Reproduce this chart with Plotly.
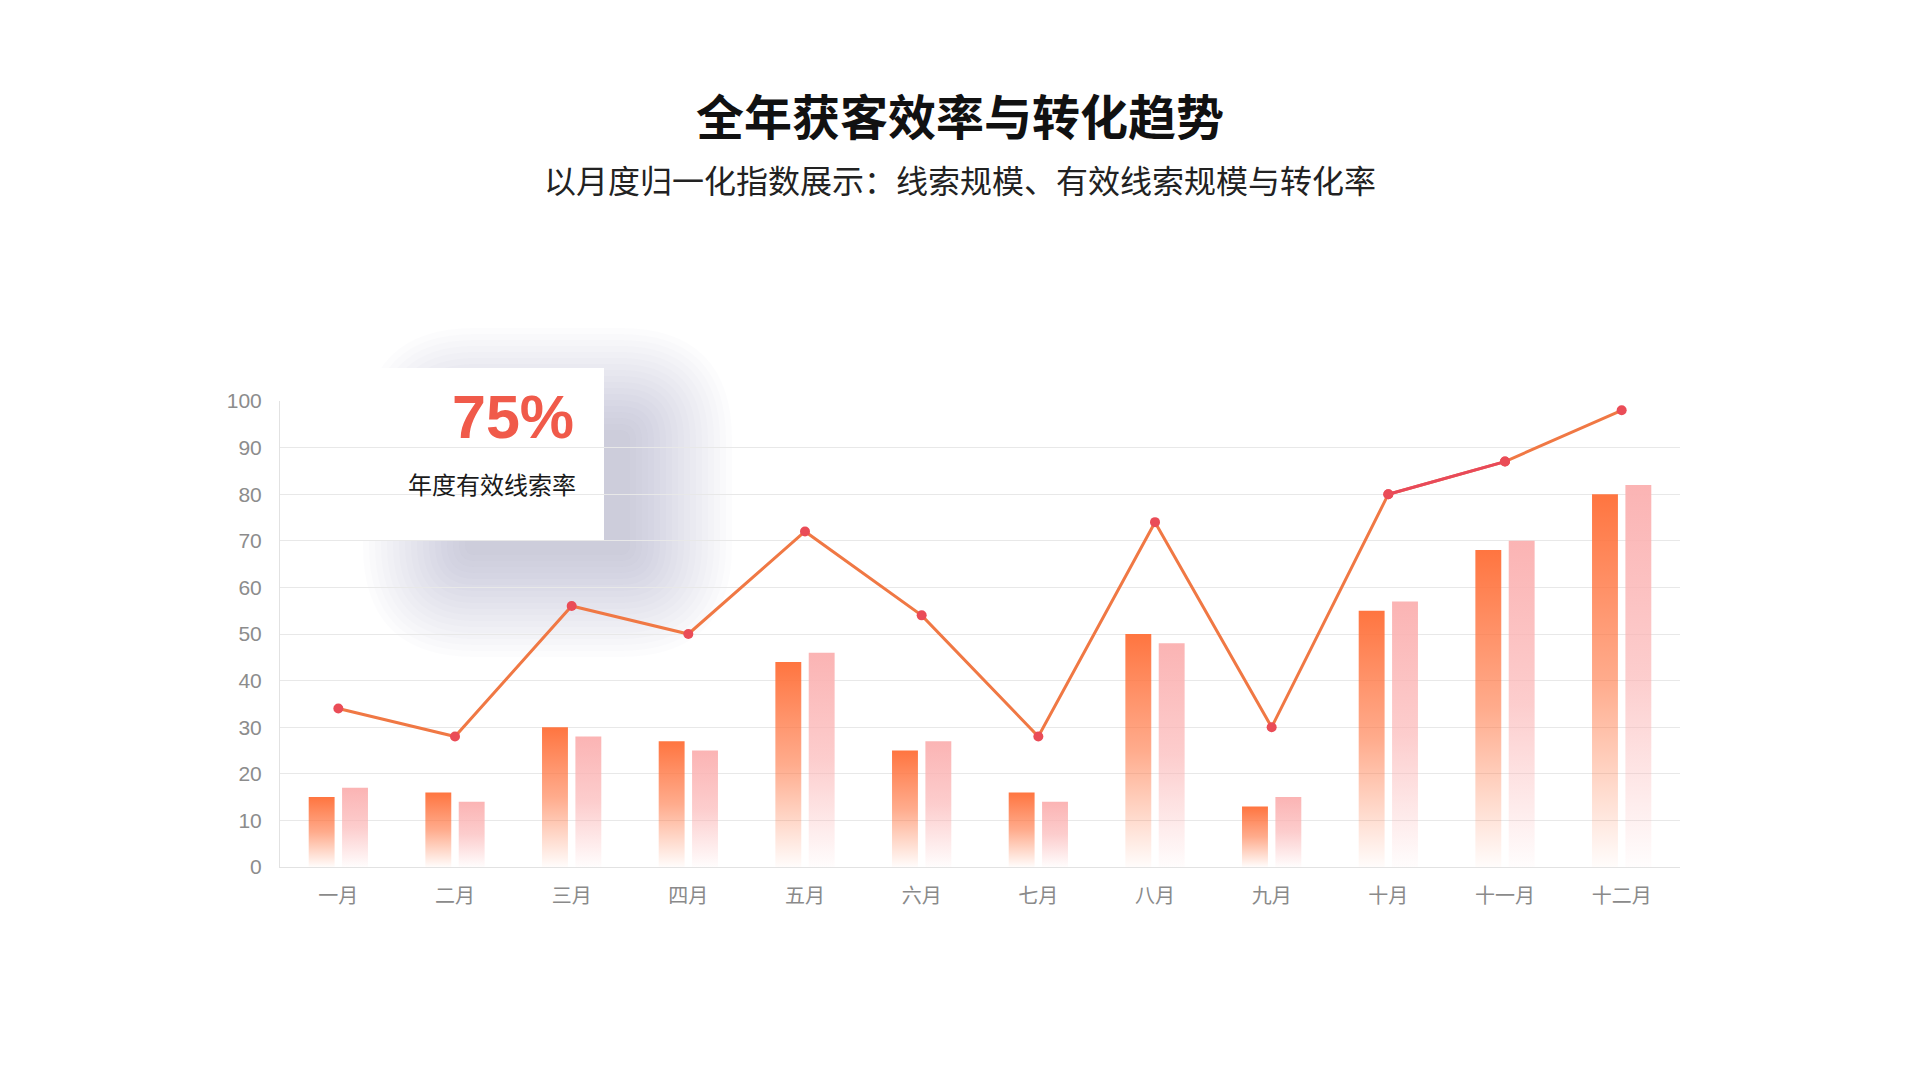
import plotly.graph_objects as go

months = ["一月", "二月", "三月", "四月", "五月", "六月",
          "七月", "八月", "九月", "十月", "十一月", "十二月"]
leads = [15, 16, 30, 27, 44, 25, 16, 50, 13, 55, 68, 80]
valid_leads = [17, 14, 28, 25, 46, 27, 14, 48, 15, 57, 70, 82]
conversion = [34, 28, 56, 50, 72, 54, 28, 74, 30, 80, 87, 98]
y_ticks = list(range(0, 101, 10))

CJK = "Noto Sans CJK SC"
NUM = "Liberation Sans, Arial, sans-serif"

# plot area in page pixels (the page body adds an 8px margin on screen)
OFF = 8
L, R, T, B = 272, 1672, 393, 859


def px(x, y):
    # screen pixel -> paper coords
    x, y = x - OFF, y - OFF
    return (x - L) / (R - L), (B - y) / (B - T)


def rounded(x0, y0, x1, y1, r):
    a0, b0 = px(x0, y0)
    a1, b1 = px(x1, y1)
    rx = r / (R - L)
    ry = r / (B - T)
    return (f"M{a0 + rx},{b0} L{a1 - rx},{b0} Q{a1},{b0} {a1},{b0 - ry} "
            f"L{a1},{b1 + ry} Q{a1},{b1} {a1 - rx},{b1} L{a0 + rx},{b1} "
            f"Q{a0},{b1} {a0},{b1 + ry} L{a0},{b0 - ry} Q{a0},{b0} {a0 + rx},{b0} Z")


fig = go.Figure()

orange_scale = [[0, "rgba(255,120,70,0.02)"], [0.5, "rgba(255,120,70,0.62)"],
                [1, "rgba(255,117,64,1)"]]
pink_scale = [[0, "rgba(251,178,178,0.03)"], [0.5, "rgba(251,178,178,0.65)"],
              [1, "rgba(251,180,180,1)"]]

bw, gap = 0.222, 0.032
for i in range(len(months)):
    for val, x0, cs in [(leads[i], i - gap - bw, orange_scale),
                        (valid_leads[i], i + gap, pink_scale)]:
        fig.add_scatter(
            x=[x0, x0, x0 + bw, x0 + bw, x0], y=[0, val, val, 0, 0],
            mode="lines", fill="toself", line=dict(width=0),
            fillgradient=dict(type="vertical", colorscale=cs),
            hoverinfo="skip", showlegend=False)

fig.add_scatter(x=list(range(len(months))), y=conversion, mode="lines+markers",
                line=dict(color="#f07844", width=3),
                marker=dict(color="#ea4c57", size=10),
                showlegend=False)
# the Oct-Nov segment shows red in the original
fig.add_scatter(x=[9, 10], y=conversion[9:11], mode="lines+markers",
                line=dict(color="#e8495a", width=3),
                marker=dict(color="#ea4c57", size=10),
                showlegend=False)

shapes = []
# soft blurred shadow behind the callout card
for g in range(102, -1, -6):
    shapes.append(dict(type="path", xref="paper", yref="paper", layer="between",
                       path=rounded(465 - g, 430 - g, 630 + g, 555 + g, g + 10),
                       fillcolor="#8390ae", opacity=0.022, line=dict(width=0)))
c0, d0 = px(363, 368)
c1, d1 = px(604, 540)
shapes.append(dict(type="rect", xref="paper", yref="paper",
                   x0=c0, x1=c1, y0=d1, y1=d0, layer="between",
                   fillcolor="white", line=dict(width=0)))

annotations = []


def note(text, sx, sy, size, color, family=CJK, xanchor="center"):
    ax, ay = px(sx, sy)
    annotations.append(dict(text=text, x=ax, y=ay, xref="paper", yref="paper",
                            xanchor=xanchor, yanchor="middle", showarrow=False,
                            font=dict(family=family, size=size, color=color)))


note("<b>全年获客效率与转化趋势</b>", 960, 114, 48, "#111")
note("以月度归一化指数展示：线索规模、有效线索规模与转化率", 960, 179, 32, "#222")
note("<b>75%</b>", 576, 417, 61, "#f05a4a", family=NUM, xanchor="right")
note("年度有效线索率", 578, 483, 24, "#1a1a1a", xanchor="right")

fig.update_layout(
    width=1920, height=1080,
    margin=dict(l=L, r=1920 - R, t=T, b=1080 - B),
    paper_bgcolor="white", plot_bgcolor="white",
    shapes=shapes, annotations=annotations,
    xaxis=dict(range=[-0.5, len(months) - 0.5], tickvals=list(range(len(months))),
               ticktext=months, showgrid=False, zeroline=False,
               showline=True, linecolor="#e2e2e2", linewidth=1, ticks="",
               ticklabelstandoff=11,
               tickfont=dict(family=CJK, size=20, color="#8a8a8a")),
    yaxis=dict(range=[0, 100], tickvals=y_ticks, showgrid=True,
               gridcolor="#e8e8e8", gridwidth=1, zeroline=False,
               showline=True, linecolor="#e2e2e2", linewidth=1, ticks="",
               ticklabelstandoff=13,
               tickfont=dict(family=NUM, size=21, color="#8c8c8c")),
)

fig.write_html("out.html")
